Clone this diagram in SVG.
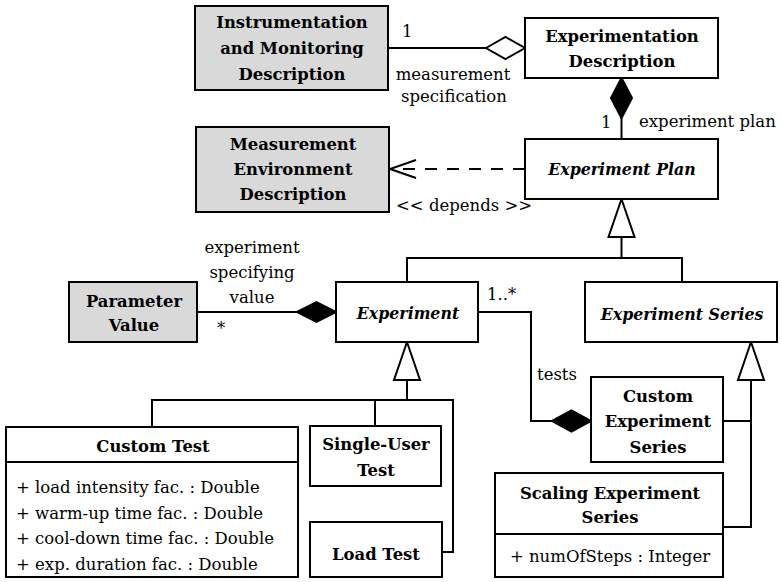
<svg xmlns="http://www.w3.org/2000/svg" width="782" height="582" viewBox="0 0 782 582">
  <style>
    .box { fill: #ffffff; stroke: #000000; stroke-width: 2; }
    .ext { fill: #d9d9d9; stroke: #000000; stroke-width: 2; }
    .ln { fill: none; stroke: #000000; stroke-width: 2; }
    .dash { fill: none; stroke: #000000; stroke-width: 2; stroke-dasharray: 12 10; }
    .hollow { fill: #ffffff; stroke: #000000; stroke-width: 2; }
    .solid { fill: #000000; stroke: #000000; stroke-width: 2; stroke-linejoin: miter; }
    text { font-family: 'DejaVu Serif', 'Liberation Serif', serif; fill: #000000; }
    .t { font-size: 16.4px; font-weight: bold; text-anchor: middle; }
    .ti { font-size: 15.8px; font-weight: bold; font-style: italic; text-anchor: middle; }
    .lab { font-size: 16.5px; }
    .mid { text-anchor: middle; }
  </style>

  <!-- connectors -->
  <g id="connectors">
    <!-- measurement specification (aggregation) -->
    <line class="ln" x1="388" y1="48" x2="486" y2="48"/>
    <polygon class="hollow" points="486,48 505.5,37 525,48 505.5,59"/>

    <!-- experiment plan (composition) -->
    <polygon class="solid" points="621.5,78 632,98 621.5,118 611,98"/>
    <line class="ln" x1="621.5" y1="118" x2="621.5" y2="139"/>

    <!-- depends (dependency) -->
    <line class="dash" x1="525" y1="169" x2="392" y2="169"/>
    <polyline class="ln" points="416,160 390,169 416,178"/>

    <!-- Experiment / Experiment Series generalize Experiment Plan -->
    <polygon class="hollow" points="621.5,199 608.5,237 634.5,237"/>
    <polyline class="ln" points="621.5,237 621.5,258"/>
    <polyline class="ln" points="407,282 407,258 682,258 682,282"/>

    <!-- experiment specifying value (composition) -->
    <line class="ln" x1="197" y1="312" x2="297" y2="312"/>
    <polygon class="solid" points="297,312 316.5,302 336,312 316.5,322"/>

    <!-- tests (composition) -->
    <polyline class="ln" points="478,312 531,312 531,421 552,421"/>
    <polygon class="solid" points="552,421 571.5,410.5 591,421 571.5,431.5"/>

    <!-- test kinds generalize Experiment -->
    <polygon class="hollow" points="407,342 394,380 420,380"/>
    <polyline class="ln" points="407,380 407,400"/>
    <polyline class="ln" points="152,427 152,400 453,400 453,552 442,552"/>
    <line class="ln" x1="375" y1="400" x2="375" y2="426"/>

    <!-- series kinds generalize Experiment Series -->
    <polygon class="hollow" points="751,342 738,380 764,380"/>
    <polyline class="ln" points="751,380 751,527 723,527"/>
    <line class="ln" x1="723" y1="421" x2="751" y2="421"/>

    <!-- association labels -->
    <text class="lab" x="402" y="37">1</text>
    <text class="lab mid" x="453" y="80">measurement</text>
    <text class="lab mid" x="454" y="102">specification</text>
    <text class="lab" x="601" y="128">1</text>
    <text class="lab" x="639" y="127">experiment plan</text>
    <text class="lab" x="396" y="211">&lt;&lt; depends &gt;&gt;</text>
    <text class="lab mid" x="252" y="253">experiment</text>
    <text class="lab mid" x="252" y="278">specifying</text>
    <text class="lab mid" x="252" y="303">value</text>
    <text class="lab" x="217" y="334">*</text>
    <text class="lab" x="487" y="300">1..*</text>
    <text class="lab" x="537" y="380">tests</text>
  </g>

  <g id="instrumentation-monitoring-description">
    <rect class="ext" x="195" y="6" width="193" height="84"/>
    <text class="t" x="292" y="28">Instrumentation</text>
    <text class="t" x="292" y="54">and Monitoring</text>
    <text class="t" x="292" y="80">Description</text>
  </g>

  <g id="experimentation-description">
    <rect class="box" x="525" y="18" width="193" height="60"/>
    <text class="t" x="622" y="42">Experimentation</text>
    <text class="t" x="622" y="67">Description</text>
  </g>

  <g id="measurement-environment-description">
    <rect class="ext" x="196" y="127" width="193" height="85"/>
    <text class="t" x="293" y="150">Measurement</text>
    <text class="t" x="293" y="175">Environment</text>
    <text class="t" x="293" y="200">Description</text>
  </g>

  <g id="experiment-plan">
    <rect class="box" x="525" y="139" width="193" height="60"/>
    <text class="ti" x="622" y="175">Experiment Plan</text>
  </g>

  <g id="parameter-value">
    <rect class="ext" x="69" y="282" width="128" height="60"/>
    <text class="t" x="134" y="307">Parameter</text>
    <text class="t" x="134" y="331">Value</text>
  </g>

  <g id="experiment">
    <rect class="box" x="336" y="282" width="142" height="60"/>
    <text class="ti" x="408" y="319">Experiment</text>
  </g>

  <g id="experiment-series">
    <rect class="box" x="585" y="282" width="192" height="60"/>
    <text class="ti" x="682" y="320">Experiment Series</text>
  </g>

  <g id="custom-experiment-series">
    <rect class="box" x="591" y="377" width="132" height="85"/>
    <text class="t" x="658" y="402">Custom</text>
    <text class="t" x="658" y="427">Experiment</text>
    <text class="t" x="658" y="453">Series</text>
  </g>

  <g id="custom-test">
    <rect class="box" x="6" y="427" width="292" height="150"/>
    <line class="ln" x1="6" y1="462" x2="298" y2="462"/>
    <text class="t" x="153" y="452">Custom Test</text>
    <text class="lab" x="16" y="493">+ load intensity fac. : Double</text>
    <text class="lab" x="16" y="519">+ warm-up time fac. : Double</text>
    <text class="lab" x="16" y="544">+ cool-down time fac. : Double</text>
    <text class="lab" x="16" y="570">+ exp. duration fac. : Double</text>
  </g>

  <g id="single-user-test">
    <rect class="box" x="310" y="426" width="131" height="60"/>
    <text class="t" x="376" y="450">Single-User</text>
    <text class="t" x="376" y="476">Test</text>
  </g>

  <g id="load-test">
    <rect class="box" x="310" y="522" width="132" height="55"/>
    <text class="t" x="376" y="560">Load Test</text>
  </g>

  <g id="scaling-experiment-series">
    <rect class="box" x="495" y="473" width="228" height="104"/>
    <line class="ln" x1="495" y1="534" x2="723" y2="534"/>
    <text class="t" x="610" y="499">Scaling Experiment</text>
    <text class="t" x="610" y="523">Series</text>
    <text class="lab mid" x="610" y="562">+ numOfSteps : Integer</text>
  </g>
</svg>
